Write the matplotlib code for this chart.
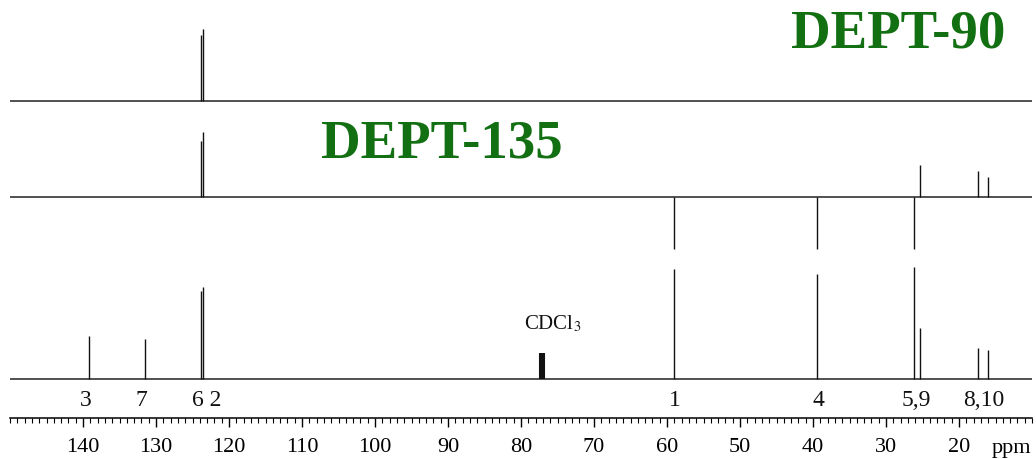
import matplotlib
matplotlib.use("Agg")
import matplotlib.pyplot as plt
from matplotlib.ticker import MultipleLocator

# ---- data (ppm, intensity in arbitrary units) ----
c13_ppm = [139.2, 131.5, 123.9, 123.5, 59.1, 39.5, 26.2, 25.4, 17.4, 16.0]
c13_int = [43, 40, 88, 92, 110, 105, 112, 51, 31, 29]
cdcl3_ppm = [77.4, 77.15, 76.9]
cdcl3_int = [26, 26, 26]

dept135_ppm = [123.9, 123.5, 59.1, 39.5, 26.2, 25.4, 17.4, 16.0]
dept135_int = [56, 65, -52, -52, -52, 32, 26, 20]

dept90_ppm = [123.9, 123.5]
dept90_int = [66, 72]

peak_labels = ["3", "7", "6 2", "1", "4", "5,9", "8,10"]
peak_label_ppm = [139.6, 132.0, 123.1, 58.9, 39.2, 25.8, 16.6]

x_ticks_major = [140, 130, 120, 110, 100, 90, 80, 70, 60, 50, 40, 30, 20]

W, H = 1036, 459
fig = plt.figure(figsize=(W / 100, H / 100), dpi=100)
ax = fig.add_axes([10 / W, (H - 418) / H, 1022 / W, 418 / H])
ax.set_xlim(150, 10)
ax.set_ylim(0, 418)

base_c13 = 39
base_135 = 221
base_90 = 317

serif = ["Liberation Serif", "DejaVu Serif"]
green = "#127012"

# baselines
for b in (base_c13, base_135, base_90):
    ax.plot([150, 10], [b, b], color="#222222", lw=1.1, solid_capstyle="butt")

# spectra
ax.vlines(c13_ppm, base_c13, [base_c13 + v for v in c13_int], color="#111111", lw=1.0)
ax.vlines(cdcl3_ppm, base_c13, [base_c13 + v for v in cdcl3_int], color="#111111", lw=1.5)
ax.vlines(dept135_ppm, base_135, [base_135 + v for v in dept135_int], color="#111111", lw=1.0)
ax.vlines(dept90_ppm, base_90, [base_90 + v for v in dept90_int], color="#111111", lw=1.0)

# labels
for lab, p in zip(peak_labels, peak_label_ppm):
    ax.text(p, 17, lab, ha="center", va="center", fontsize=17, family=serif, color="#111111")
ax.text(75.6, 94, "CDCl$_3$", ha="center", va="center", fontsize=15,
        family=serif, color="#111111", math_fontfamily="stix")

fig.text(1005 / W, 1 - 10 / H, "DEPT-90", ha="right", va="top",
         fontsize=39.5, fontweight="bold", family=serif, color=green)
fig.text(442 / W, 1 - 120 / H, "DEPT-135", ha="center", va="top",
         fontsize=39.5, fontweight="bold", family=serif, color=green)

# ppm axis
for s in ("top", "left", "right"):
    ax.spines[s].set_visible(False)
ax.spines["bottom"].set_linewidth(1.1)
ax.set_yticks([])
ax.set_xticks(x_ticks_major)
ax.set_xticklabels([str(t) for t in x_ticks_major])
ax.xaxis.set_minor_locator(MultipleLocator(1))
ax.tick_params(axis="x", which="major", direction="out", length=6.5, width=1.0, pad=8,
               labelsize=16)
ax.tick_params(axis="x", which="minor", direction="out", length=3.5, width=0.8)
for lbl in ax.get_xticklabels():
    lbl.set_family(serif)
ax.text(12.8, -31, "ppm", ha="center", va="center", fontsize=16, family=serif)
ax.set_facecolor("white")
fig.patch.set_facecolor("white")

fig.savefig("out.png", dpi=100, facecolor="white")
